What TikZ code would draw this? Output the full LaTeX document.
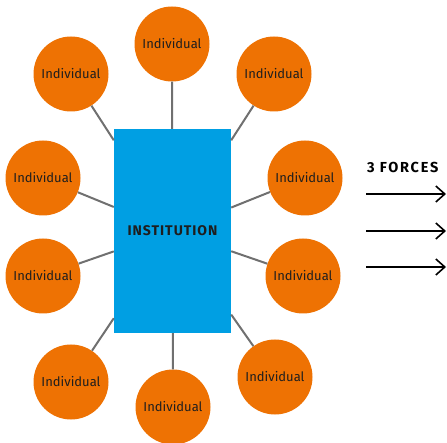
\documentclass[tikz,border=0pt]{standalone}
\usepackage{fontspec}
\setmainfont{Fira Sans}
\newfontfamily\spacedbold[LetterSpace=7]{Fira Sans}
\newfontfamily\widebold[LetterSpace=12]{Fira Sans}
\usetikzlibrary{arrows.meta}
\usepackage{xcolor}
\definecolor{indorange}{HTML}{EE7203}
\definecolor{instblue}{HTML}{009FE3}
\definecolor{linkgrey}{HTML}{707070}
\definecolor{inktext}{HTML}{1E1E1E}

\begin{document}
\begin{tikzpicture}[%
    x=1pt, y=-1pt,
    indiv/.style = {circle, fill=indorange, minimum size=75pt, inner sep=0pt,
        text=inktext, font=\fontsize{13}{15}\selectfont},
    inst/.style = {rectangle, fill=instblue, minimum width=117pt, minimum height=204pt,
        inner sep=0pt, text=inktext, font=\spacedbold\fontsize{14}{16}\selectfont\bfseries},
    link/.style = {draw=linkgrey, line width=2pt},
    force/.style = {draw=black, line width=1.6pt, -{Straight Barb[length=9pt, width=16pt]}}
]
\useasboundingbox (0,0) rectangle (447,443);

\node (inst) [inst] at (172.5,231) {INSTITUTION};

\foreach \i/\x/\y in {1/172/44, 2/71/74, 3/274/74, 4/43/178, 5/305/178,
        6/43/276, 7/303/276, 8/71/382, 9/173/407, 10/275/377} {
    \node (p\i) [indiv] at (\x,\y) {Individual};
    \draw [link] (p\i) -- (inst);
}

\node (forces) [anchor=base west, inner sep=0pt,
    font=\widebold\fontsize{14.5}{16}\selectfont\bfseries]
    at (367,173) {3 FORCES};
\foreach \j/\y in {1/194, 2/231, 3/267} {
    \coordinate (f\j a) at (366,\y);
    \coordinate (f\j b) at (446,\y);
    \draw [force] (f\j a) -- (f\j b);
}
\end{tikzpicture}
\end{document}
